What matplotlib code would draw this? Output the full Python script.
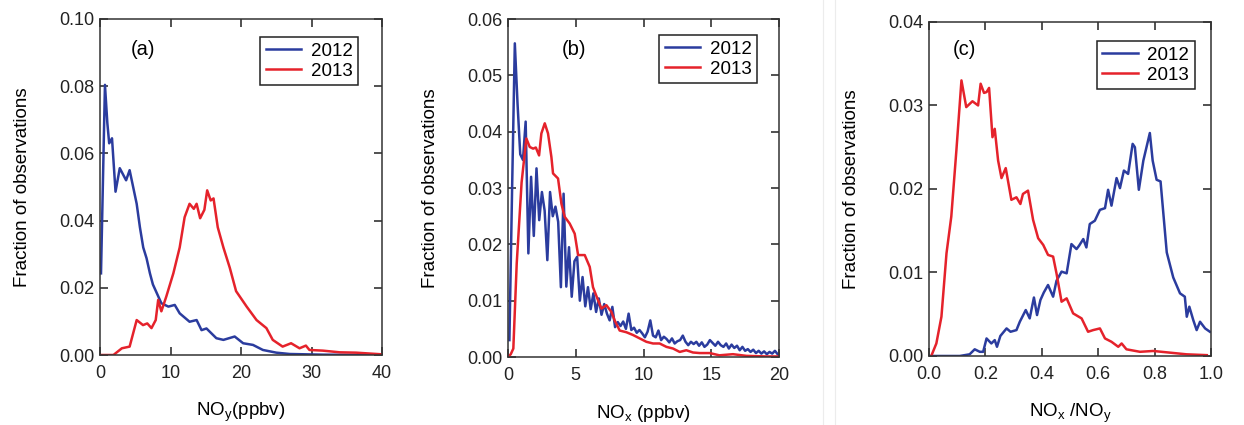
import matplotlib.pyplot as plt
from matplotlib.lines import Line2D

# Couleurs des deux années
BLEU = '#2b3c9e'
ROUGE = '#e5222b'

# (a) NOy
a_2012_x = [0.14, 0.7, 1.04, 1.3, 1.7, 2.2, 2.8, 3.7, 4.2, 5.2, 5.66, 6.13, 6.6, 7.08, 7.5, 8.7, 9.7,
            10.6, 11.3, 12.7, 13.7, 14.4, 15.1, 16.5, 17.5, 19.1, 20.3, 21.7, 23.1, 25.0, 26.9, 31.6, 40.0]
a_2012_y = [0.0243, 0.0804, 0.069, 0.063, 0.0645, 0.0486, 0.0556, 0.052, 0.055, 0.045, 0.038, 0.032,
            0.0288, 0.0243, 0.021, 0.0154, 0.0144, 0.0149, 0.0124, 0.0099, 0.0104, 0.0074, 0.0079,
            0.005, 0.0045, 0.0055, 0.0035, 0.003, 0.0015, 0.0007, 0.0003, 0.0001, 0.0]
a_2013_x = [0, 1.9, 3.1, 4.2, 5.2, 6.1, 6.7, 7.3, 7.9, 8.25, 8.7, 9.4, 10.4, 11.3, 12.0, 12.7, 13.3,
            13.7, 14.2, 14.8, 15.2, 15.7, 16.1, 16.7, 17.5, 18.4, 19.3, 20.8, 22.2, 23.6, 24.5, 25.9,
            27.1, 28.3, 29.2, 29.7, 31.6, 34.0, 36.3, 40.0]
a_2013_y = [0, 0, 0.002, 0.0025, 0.0104, 0.0089, 0.0094, 0.008, 0.0104, 0.0164, 0.013, 0.0174, 0.0243,
            0.032, 0.041, 0.045, 0.0435, 0.045, 0.0407, 0.0432, 0.049, 0.046, 0.0466, 0.038, 0.032,
            0.026, 0.019, 0.0144, 0.0104, 0.008, 0.0045, 0.0025, 0.0035, 0.002, 0.0028, 0.0015,
            0.0013, 0.0008, 0.0007, 0.0002]

# (b) NOx, pas de 0.2 ppbv pour 2012
b_2012_x = [0.1 + 0.2 * i for i in range(100)]
b_2012_y = [0.003, 0.030, 0.0557, 0.045, 0.036, 0.035, 0.0418, 0.0184, 0.032, 0.0215,
            0.0335, 0.0243, 0.0293, 0.026, 0.0172, 0.0293, 0.025, 0.0267, 0.024, 0.0124,
            0.029, 0.0125, 0.0195, 0.0107, 0.017, 0.0178, 0.010, 0.0142, 0.009, 0.0124,
            0.0085, 0.0113, 0.008, 0.0104, 0.0075, 0.0094, 0.0077, 0.0065, 0.0089, 0.0053,
            0.0062, 0.0055, 0.0063, 0.0050, 0.0077, 0.0048, 0.0052, 0.0043, 0.0048, 0.0042,
            0.0035, 0.0045, 0.0065, 0.0038, 0.0035, 0.0047, 0.0030, 0.0036, 0.0032, 0.0026,
            0.0033, 0.0024, 0.0028, 0.0030, 0.0038, 0.0027, 0.0021, 0.0027, 0.0023, 0.0027,
            0.0020, 0.0026, 0.0018, 0.0022, 0.0030, 0.0025, 0.0020, 0.0027, 0.0021, 0.0018,
            0.0024, 0.0015, 0.0022, 0.0016, 0.0020, 0.0012, 0.0018, 0.0011, 0.0014, 0.0009,
            0.0013, 0.0007, 0.0011, 0.0006, 0.0010, 0.0005, 0.0009, 0.0006, 0.0011, 0.0005]
b_2013_x = [0, 0.2, 0.39, 0.64, 1.0, 1.35, 1.6, 1.85, 2.05, 2.29, 2.46, 2.71, 2.95, 3.2, 3.32, 3.69,
            3.94, 4.18, 4.55, 4.92, 5.17, 5.66, 6.03, 6.27, 6.64, 6.89, 7.26, 7.63, 7.87, 8.24, 8.73,
            9.23, 9.72, 10.21, 10.7, 11.19, 11.69, 12.18, 12.67, 13.16, 13.65, 14.15, 14.88, 15.6,
            16.6, 17.6, 19.0, 20.0]
b_2013_y = [0.0, 0.0005, 0.0015, 0.0166, 0.031, 0.0388, 0.0373, 0.037, 0.0372, 0.0358, 0.0397, 0.0415,
            0.0397, 0.0355, 0.0326, 0.0317, 0.0272, 0.0249, 0.0237, 0.0219, 0.0181, 0.0181, 0.016,
            0.0124, 0.0101, 0.0086, 0.0092, 0.008, 0.0065, 0.0047, 0.0044, 0.0039, 0.0033, 0.0027,
            0.0024, 0.0024, 0.0018, 0.0015, 0.0009, 0.0012, 0.0008, 0.0007, 0.0007, 0.0003, 0.0005,
            0.0002, 0.0001, 0.0001]

# (c) NOx / NOy
c_2012_x = [0.0, 0.109, 0.144, 0.162, 0.180, 0.192, 0.204, 0.221, 0.233, 0.241, 0.253, 0.275, 0.289,
            0.310, 0.322, 0.343, 0.357, 0.372, 0.383, 0.395, 0.407, 0.422, 0.44, 0.452, 0.47, 0.488,
            0.505, 0.523, 0.532, 0.547, 0.558, 0.570, 0.588, 0.606, 0.624, 0.635, 0.647, 0.665,
            0.677, 0.691, 0.706, 0.722, 0.730, 0.744, 0.760, 0.783, 0.793, 0.807, 0.821, 0.843,
            0.866, 0.890, 0.907, 0.914, 0.923, 0.937, 0.949, 0.961, 0.979, 0.996]
c_2012_y = [0, 0, 0.0002, 0.0008, 0.0005, 0.0005, 0.0021, 0.0015, 0.0019, 0.0011, 0.0024, 0.0033,
            0.0029, 0.0031, 0.0041, 0.0055, 0.0045, 0.007, 0.0049, 0.0067, 0.0076, 0.0085, 0.0071,
            0.009, 0.0101, 0.0099, 0.0134, 0.0128, 0.0132, 0.014, 0.013, 0.0158, 0.0162, 0.0175,
            0.0177, 0.0199, 0.018, 0.0213, 0.0201, 0.0222, 0.0218, 0.0254, 0.025, 0.0199, 0.0234,
            0.0267, 0.0234, 0.0211, 0.0209, 0.0124, 0.0094, 0.0075, 0.0071, 0.0047, 0.0059, 0.0043,
            0.0031, 0.0041, 0.0033, 0.0029]
c_2013_x = [0.008, 0.026, 0.044, 0.062, 0.079, 0.097, 0.115, 0.132, 0.154, 0.174, 0.183, 0.195,
            0.204, 0.213, 0.225, 0.233, 0.245, 0.257, 0.272, 0.292, 0.310, 0.324, 0.333, 0.351,
            0.369, 0.387, 0.405, 0.422, 0.44, 0.452, 0.470, 0.488, 0.511, 0.541, 0.564, 0.582,
            0.606, 0.624, 0.647, 0.671, 0.683, 0.7, 0.748, 0.795, 0.854, 0.913, 0.985]
c_2013_y = [0.0, 0.0015, 0.0047, 0.0123, 0.0167, 0.0246, 0.033, 0.0298, 0.0305, 0.030, 0.0326,
            0.0315, 0.0316, 0.0321, 0.0262, 0.0272, 0.0234, 0.0213, 0.0225, 0.0187, 0.019, 0.0182,
            0.0194, 0.0198, 0.0163, 0.0141, 0.0133, 0.0121, 0.0119, 0.0099, 0.0065, 0.0069, 0.0051,
            0.0045, 0.0029, 0.0031, 0.0033, 0.0021, 0.0017, 0.0011, 0.0015, 0.0008, 0.0005, 0.0006,
            0.0004, 0.0002, 0.0001]

annees = ['2012', '2013']

plt.rcParams['font.family'] = ['Liberation Sans', 'DejaVu Sans']
plt.rcParams['mathtext.fontset'] = 'custom'
plt.rcParams['mathtext.rm'] = 'Liberation Sans'
plt.rcParams['mathtext.it'] = 'Liberation Sans'

fig = plt.figure(figsize=(12.44, 4.25), dpi=100)

# Traits gris clairs de la mise en page d'origine
fig.add_artist(Line2D([823 / 1244, 823 / 1244], [0, 1], color='#ececec', lw=0.8))
fig.add_artist(Line2D([835 / 1244, 835 / 1244], [0, 1], color='#ececec', lw=0.8))


def panneau(rect, x1, y1, x2, y2, xlim, ylim, xticks, yticks, xfmt, xlabel, lettre, pos_lettre, pos_leg):
    ax = fig.add_axes(rect)
    ax.plot(x1, y1, color=BLEU, lw=1.8, label=annees[0])
    ax.plot(x2, y2, color=ROUGE, lw=1.8, label=annees[1])
    ax.set_xlim(*xlim)
    ax.set_ylim(*ylim)
    ax.set_xticks(xticks)
    ax.set_xticklabels([xfmt.format(v) for v in xticks])
    ax.set_yticks(yticks)
    ax.set_yticklabels(['{:.2f}'.format(v) for v in yticks])
    ax.tick_params(direction='in', length=6, width=1.1, top=True, right=True,
                   labelsize=13, colors='#222222')
    ax.tick_params(axis='x', pad=7)
    ax.tick_params(axis='y', pad=4)
    for s in ax.spines.values():
        s.set_color('#333333')
        s.set_linewidth(1.1)
    ax.set_xlabel(xlabel, fontsize=13.5, labelpad=14)
    ax.set_ylabel('Fraction of observations', fontsize=13.5, labelpad=20)
    ax.text(pos_lettre[0], pos_lettre[1], lettre, transform=ax.transAxes, fontsize=14.5, va='center')
    leg = ax.legend(loc='upper right', bbox_to_anchor=pos_leg, borderaxespad=0, fontsize=13.5,
                    fancybox=False, framealpha=1, handlelength=1.9, handletextpad=0.5,
                    borderpad=0.3, labelspacing=0.15)
    leg.get_frame().set_edgecolor('#222222')
    leg.get_frame().set_linewidth(1.1)
    return ax


panneau([0.0804, 0.1647, 0.2267, 0.7906], a_2012_x, a_2012_y, a_2013_x, a_2013_y,
        (0, 40), (0, 0.1), [0, 10, 20, 30, 40], [0, 0.02, 0.04, 0.06, 0.08, 0.10], '{:d}',
        r'NO$_\mathrm{y}$(ppbv)', '(a)', (0.11, 0.91), (0.915, 0.946))

panneau([0.4084, 0.16, 0.2178, 0.795], b_2012_x, b_2012_y, b_2013_x, b_2013_y,
        (0, 20), (0, 0.06), [0, 5, 10, 15, 20], [0, 0.01, 0.02, 0.03, 0.04, 0.05, 0.06], '{:d}',
        r'NO$_\mathrm{x}$ (ppbv)', '(b)', (0.2, 0.91), (0.919, 0.953))

panneau([0.7468, 0.1624, 0.2267, 0.786], c_2012_x, c_2012_y, c_2013_x, c_2013_y,
        (0, 1), (0, 0.04), [0, 0.2, 0.4, 0.6, 0.8, 1.0], [0, 0.01, 0.02, 0.03, 0.04], '{:.1f}',
        r'NO$_\mathrm{x}$ /NO$_\mathrm{y}$', '(c)', (0.085, 0.916), (0.943, 0.943))

plt.savefig('out.png', dpi=100)
